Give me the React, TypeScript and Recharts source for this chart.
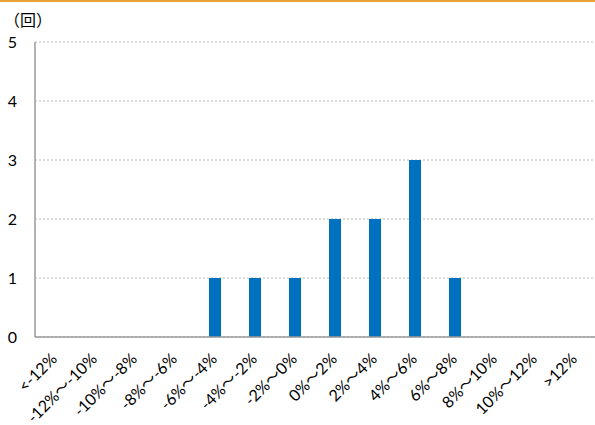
import { BarChart, Bar, XAxis, YAxis, CartesianGrid } from 'recharts'

const categories = [
  '<-12%', '-12%～-10%', '-10%～-8%', '-8%～-6%', '-6%～-4%', '-4%～-2%', '-2%～0%',
  '0%～2%', '2%～4%', '4%～6%', '6%～8%', '8%～10%', '10%～12%', '>12%',
]
const counts = [0, 0, 0, 0, 1, 1, 1, 2, 2, 3, 1, 0, 0, 0]
const yTicks = [0, 1, 2, 3, 4, 5]

const data = categories.map((name, i) => ({ name, value: counts[i] }))

const FONT = 'Lato, "Noto Sans CJK JP", sans-serif'

function AngledTick({ x, y, payload }: { x?: number; y?: number; payload?: { value: string } }) {
  const tx = (x ?? 0) + 3
  const ty = (y ?? 0) + 15
  return (
    <text
      x={tx}
      y={ty}
      transform={`rotate(-45, ${tx}, ${ty})`}
      textAnchor="end"
      fontSize={16}
      fill="#000"
      fontFamily={FONT}
    >
      {payload?.value}
    </text>
  )
}

export default function App() {
  return (
    <div style={{ position: 'absolute', left: 0, top: 0, width: 595, height: 425, background: '#fff', fontFamily: FONT }}>
      <div style={{ position: 'absolute', left: 0, top: 0, width: 595, height: 2, background: '#E9A437' }} />
      <div style={{ position: 'absolute', left: 4, top: 7, fontSize: 16, color: '#000', fontFamily: '"Noto Sans CJK JP", sans-serif' }}>（回）</div>
      <BarChart width={595} height={425} data={data} margin={{ top: 42, right: 0, left: 0, bottom: 0 }} barCategoryGap={0}>
        <CartesianGrid vertical={false} stroke="#b8b8b8" strokeDasharray="2 2" />
        <XAxis
          dataKey="name"
          interval={0}
          height={88}
          tickLine={false}
          axisLine={{ stroke: '#9a9a9a', strokeWidth: 1.5 }}
          tick={<AngledTick />}
        />
        <YAxis
          domain={[0, 5]}
          ticks={yTicks}
          width={35}
          tickLine={false}
          tickSize={0}
          tickMargin={18}
          axisLine={{ stroke: '#9a9a9a', strokeWidth: 1.5 }}
          tick={{ fontSize: 16, fill: '#000', fontFamily: FONT }}
        />
        <Bar dataKey="value" fill="#0070C0" barSize={12} isAnimationActive={false} />
      </BarChart>
    </div>
  )
}
